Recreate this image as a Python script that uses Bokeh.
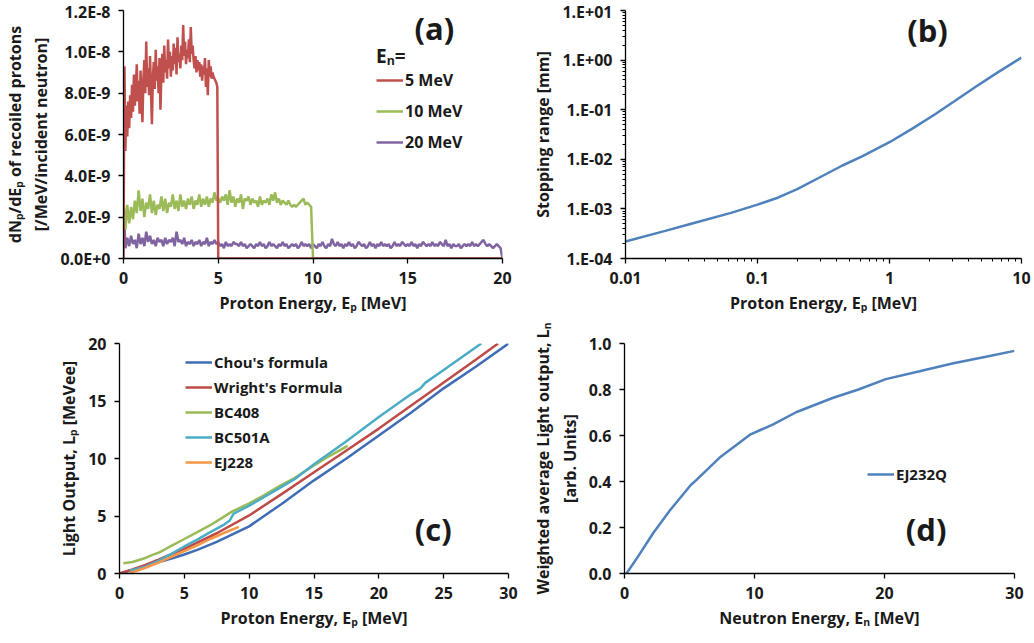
from bokeh.plotting import figure
from bokeh.layouts import column, row
from bokeh.models import (FixedTicker, CustomJSTickFormatter, Legend, LegendItem,
                          Label, Range1d, NumeralTickFormatter)
from bokeh.embed import file_html
from bokeh.resources import INLINE
import numpy as np

FONT = "Open Sans"
TXT = "#1a1a1a"

# ---------------- (a) recoil proton spectra, values in units of 1E-9 ----------------
bin5 = 0.05
red5 = [0.0, 9.3, 5.2, 7.4, 5.9, 7.6, 6.3, 7.9, 6.8, 8.4,
        7.1, 8.9, 7.4, 8.2, 9.4, 7.6, 8.6, 7.0, 9.1, 7.8,
        6.6, 8.7, 9.6, 8.0, 10.5, 8.3, 9.2, 7.9, 9.8, 8.1,
        6.5, 8.8, 9.5, 8.2, 10.1, 8.6, 9.3, 8.0, 9.7, 7.2,
        8.9, 9.9, 8.5, 10.3, 9.0, 9.6, 8.7, 10.6, 9.2, 10.0,
        8.8, 9.8, 9.1, 10.4, 9.4, 10.2, 8.9, 10.7, 9.5, 9.9,
        9.2, 10.3, 9.6, 11.3, 9.8, 10.5, 9.4, 10.1, 9.7, 10.6,
        9.5, 11.2, 9.9, 10.3, 9.6, 9.2, 9.8, 9.0, 9.6, 9.1,
        9.5, 8.8, 9.4, 8.6, 9.3, 8.9, 9.7, 8.3, 9.2, 7.9,
        9.6, 8.8, 9.3, 8.7, 9.0, 8.8, 8.7, 8.6, 8.5, 8.3]
end5 = [5.0, 20.0]

bin10 = 0.1
green10 = [2.9, 1.4, 2.6, 1.7, 2.5, 1.9, 2.8, 2.2, 3.3, 2.3,
           2.9, 2.0, 2.7, 2.4, 3.1, 2.2, 2.8, 2.1, 2.6, 2.4,
           3.0, 2.3, 2.9, 2.2, 2.7, 2.5, 3.1, 2.4, 2.8, 2.3,
           3.1, 2.5, 2.8, 2.4, 2.9, 2.6, 3.0, 2.4, 2.8, 2.6,
           3.1, 2.5, 2.9, 2.6, 3.0, 2.5, 2.9, 2.7, 3.2, 2.8,
           2.9, 2.7, 3.0, 2.8, 3.1, 2.6, 3.3, 2.7, 3.0, 2.5,
           2.9, 2.7, 3.1, 2.4, 2.9, 2.8, 3.0, 2.6, 2.9, 2.7,
           2.8, 2.5, 3.0, 2.6, 2.8, 2.7, 2.9, 2.6, 3.1, 2.8,
           3.2, 2.7, 2.9, 2.6, 2.8, 2.7, 2.6, 2.8, 2.6, 2.5,
           2.6, 2.5, 2.6, 2.7, 2.8, 2.9, 2.6, 2.7, 2.6, 2.5]
end10 = [10.0, 20.0]

bin20 = 0.1
purple20 = [2.9, 0.5, 1.0, 0.6, 1.1, 0.7, 0.9, 0.5, 1.2, 0.7,
            1.0, 0.6, 1.3, 0.8, 1.1, 0.7, 0.9, 0.6, 1.0, 0.8,
            0.9, 0.6, 1.0, 0.7, 0.9, 0.8, 1.0, 0.6, 1.3, 0.8,
            0.9, 0.7, 1.0, 0.6, 0.8, 0.7, 0.9, 0.6, 0.8, 0.7,
            0.9, 0.6, 0.8, 0.7, 1.0, 0.6, 0.8, 0.7, 0.9, 0.7,
            0.8, 0.6, 0.7, 0.5, 0.8, 0.6, 0.7, 0.6, 0.8, 0.7,
            0.7, 0.6, 0.8, 0.6, 0.7, 0.5, 0.6, 0.7, 0.6, 0.5,
            0.7, 0.6, 0.8, 0.6, 0.7, 0.5, 0.6, 0.8, 0.6, 0.7,
            0.6, 0.5, 0.7, 0.6, 0.8, 0.6, 0.7, 0.5, 0.6, 0.7,
            0.6, 0.7, 0.5, 0.6, 0.8, 0.6, 0.7, 0.6, 0.7, 0.5,
            0.7, 0.6, 0.5, 0.7, 0.6, 0.8, 0.6, 0.5, 0.7, 0.6,
            0.95, 0.7, 0.6, 0.8, 0.6, 0.7, 0.5, 0.7, 0.6, 0.8,
            0.6, 0.7, 0.5, 0.6, 0.8, 0.7, 0.6, 0.7, 0.5, 0.6,
            0.8, 0.6, 0.7, 0.5, 0.7, 0.6, 0.8, 0.6, 0.7, 0.6,
            0.7, 0.5, 0.6, 0.8, 0.6, 0.7, 0.6, 0.8, 0.7, 0.6,
            0.7, 0.6, 0.8, 0.6, 0.7, 0.5, 0.7, 0.6, 0.8, 0.7,
            0.6, 0.7, 0.6, 0.8, 0.6, 0.7, 0.6, 0.8, 0.7, 0.6,
            0.9, 0.6, 0.7, 0.5, 0.7, 0.6, 0.6, 0.7, 0.5, 0.6,
            0.7, 0.6, 0.7, 0.6, 0.8, 0.6, 0.7, 0.6, 0.7, 0.8,
            0.9, 0.7, 0.6, 0.7, 0.6, 0.5, 0.6, 0.7, 0.6, 0.5]
end20 = [20.0]

a_ticks_x = [0, 5, 10, 15, 20]
a_ticks_y = [0, 2e-9, 4e-9, 6e-9, 8e-9, 1e-8, 1.2e-8]
a_labels = ["5 MeV", "10 MeV", "20 MeV"]

# ---------------- (b) stopping range ----------------
b_E = [0.01, 0.02, 0.03, 0.063, 0.1, 0.144, 0.2, 0.3, 0.44, 0.62, 1.0, 1.5, 2.2, 3.1,
       4.5, 6.7, 10.0]
b_R = [2.21e-4, 3.6e-4, 4.85e-4, 8.3e-4, 1.22e-3, 1.7e-3, 2.5e-3, 4.4e-3, 7.5e-3, 1.15e-2,
       2.21e-2, 4.2e-2, 8.0e-2, 0.148, 0.29, 0.58, 1.13]

# ---------------- (c) light output ----------------
chou_E = [0, 1, 2, 3, 4, 5, 6, 7.5, 10, 12.5, 15, 17.5, 20, 22.5, 25, 27.5, 30]
chou_L = [0, 0.3, 0.65, 0.98, 1.3, 1.65, 2.05, 2.75, 4.1, 6.05, 8.1, 10.0, 12.0, 14.0, 16.1, 18.0, 20.0]
wright_E = [0, 1, 2, 3, 5, 7.5, 10, 12.5, 15, 17.5, 20, 22.5, 25, 27.5, 29.2]
wright_L = [0, 0.35, 0.75, 1.2, 2.15, 3.5, 5.05, 6.9, 8.8, 10.7, 12.6, 14.6, 16.6, 18.6, 20.0]
bc408_E = [0.3, 1, 2, 2.5, 3, 4, 5, 6, 7, 8, 8.7, 10, 11, 12.5, 13.5, 15, 16, 17.6]
bc408_L = [0.9, 1.0, 1.35, 1.6, 1.8, 2.4, 3.0, 3.6, 4.2, 4.9, 5.4, 6.1, 6.7, 7.7, 8.3, 9.4, 10.1, 11.1]
bc501_E = [0.8, 2, 3, 4, 5, 6, 7, 8, 8.5, 8.8, 10, 12, 13.5, 15, 17.5, 20, 22.5, 23.2, 23.6, 25, 27.9]
bc501_L = [0.25, 0.6, 1.1, 1.7, 2.35, 2.95, 3.6, 4.2, 4.6, 5.2, 5.9, 7.2, 8.2, 9.5, 11.5, 13.6, 15.6,
           16.1, 16.6, 17.7, 20.0]
ej228_E = [0.8, 1.5, 2, 3, 4, 5, 6, 7, 8, 9.2]
ej228_L = [0.05, 0.3, 0.5, 0.95, 1.45, 1.95, 2.45, 3.0, 3.5, 4.05]
c_names = ["Chou's formula", "Wright's Formula", "BC408", "BC501A", "EJ228"]

# ---------------- (d) weighted average light output ----------------
d_E = [0.15, 1, 2.2, 3.5, 5.1, 5.5, 7.3, 9.7, 10.5, 11.4, 13.2, 16, 18, 20.1, 22.7, 25.3, 27.8, 30]
d_L = [0, 0.07, 0.175, 0.275, 0.385, 0.405, 0.503, 0.605, 0.625, 0.647, 0.701, 0.763, 0.80,
       0.845, 0.879, 0.914, 0.942, 0.968]


def style(p):
    p.outline_line_color = None
    p.xgrid.visible = False
    p.ygrid.visible = False
    p.background_fill_color = "white"
    p.border_fill_color = "white"
    for ax in list(p.xaxis) + list(p.yaxis):
        ax.axis_line_color = "#000000"
        ax.axis_line_width = 1.3
        ax.major_tick_line_color = "#000000"
        ax.major_tick_line_width = 1.3
        ax.major_tick_in = 0
        ax.major_tick_out = 5
        ax.minor_tick_line_color = None
        ax.major_label_text_font = FONT
        ax.major_label_text_font_size = "16px"
        ax.major_label_text_font_style = "bold"
        ax.major_label_text_color = TXT
        ax.axis_label_text_font = FONT
        ax.axis_label_text_font_size = "16px"
        ax.axis_label_text_font_style = "bold"
        ax.axis_label_text_color = TXT
        ax.major_label_standoff = 8


def panel_label(p, txt, x, y):
    p.add_layout(Label(x=x, y=y, text=txt, text_font=FONT, text_font_size="31px",
                       text_font_style="bold", text_color=TXT,
                       text_align="center", text_baseline="middle"))


def legend(items, loc, title=None, spacing=5, lh=20, fs="15px"):
    lg = Legend(items=items, location=loc, border_line_color=None,
                background_fill_alpha=0, padding=0, margin=0, spacing=spacing,
                glyph_width=27, glyph_height=lh, label_height=lh, label_standoff=2,
                label_text_font=FONT, label_text_font_size=fs,
                label_text_font_style="bold", label_text_color=TXT)
    if title:
        lg.title = title
        lg.title_text_font = FONT
        lg.title_text_font_size = "19px"
        lg.title_text_font_style = "bold"
        lg.title_text_color = TXT
        lg.title_standoff = -3
    return lg


# ---------- panel (a) ----------
pa = figure(width=520, height=320, min_border_left=122, min_border_right=18,
            min_border_top=10, min_border_bottom=61, x_range=Range1d(0, 20),
            y_range=Range1d(0, 1.2e-8), output_backend="svg", toolbar_location=None)
style(pa)
xa5 = list(np.arange(len(red5)) * bin5) + end5
ya5 = [v * 1e-9 for v in red5] + [0.0] * len(end5)
xa10 = list(np.arange(len(green10)) * bin10) + end10
ya10 = [v * 1e-9 for v in green10] + [0.0] * len(end10)
xa20 = list(np.arange(len(purple20)) * bin20) + end20
ya20 = [v * 1e-9 for v in purple20] + [0.0] * len(end20)
r20 = pa.line(xa20, ya20, line_color="#8064A2", line_width=2.5)
r10 = pa.line(xa10, ya10, line_color="#9BBB59", line_width=2.5)
r5 = pa.line(xa5, ya5, line_color="#C0504D", line_width=2.5)
pa.xaxis.ticker = FixedTicker(ticks=a_ticks_x)
pa.yaxis.ticker = FixedTicker(ticks=a_ticks_y)
pa.yaxis.formatter = CustomJSTickFormatter(code="""
if (Math.abs(tick) < 1e-20) return "0.0E+0";
const e = Math.floor(Math.log10(Math.abs(tick)) + 1e-6);
const m = tick / Math.pow(10, e);
return m.toFixed(1) + "E" + (e >= 0 ? "+" : "") + e;
""")
pa.xaxis.axis_label = "Proton Energy, E\u209a [MeV]"
pa.yaxis.axis_label = "dN\u209a/dE\u209a of recoiled protons\n[/MeV/incident neutron]"
pa.add_layout(legend([LegendItem(label=a_labels[0], renderers=[r5]),
                      LegendItem(label=a_labels[1], renderers=[r10]),
                      LegendItem(label=a_labels[2], renderers=[r20])],
                     (253, 105), title="E\u2099=", spacing=9, fs="16px"))
panel_label(pa, "(a)", 16.4, 1.113e-8)

# ---------- panel (b) ----------
pb = figure(width=514, height=320, min_border_left=105, min_border_right=13,
            min_border_top=8, min_border_bottom=62, x_axis_type="log", y_axis_type="log",
            x_range=Range1d(0.01, 10), y_range=Range1d(1e-4, 10),
            output_backend="svg", toolbar_location=None)
style(pb)
pb.line(b_E, b_R, line_color="#4F81BD", line_width=2.5)
pb.xaxis.ticker = FixedTicker(ticks=[0.01, 0.1, 1, 10],
                              minor_ticks=[m * 10.0 ** e for e in range(-2, 1) for m in range(2, 10)])
pb.yaxis.ticker = FixedTicker(ticks=[1e-4, 1e-3, 1e-2, 1e-1, 1, 10],
                              minor_ticks=[m * 10.0 ** e for e in range(-4, 1) for m in range(2, 10)])
for ax in list(pb.xaxis) + list(pb.yaxis):
    ax.minor_tick_line_color = "#000000"
    ax.minor_tick_in = 0
    ax.minor_tick_out = 3
pb.xaxis.formatter = CustomJSTickFormatter(code="""
const e = Math.round(Math.log10(tick));
return e < 0 ? (1/Math.pow(10,-e)).toFixed(-e) : String(Math.pow(10, e));
""")
pb.yaxis.formatter = CustomJSTickFormatter(code="""
const e = Math.round(Math.log10(tick));
const s = String(Math.abs(e)).padStart(2, "0");
return "1.E" + (e < 0 ? "-" : "+") + s;
""")
pb.xaxis.axis_label = "Proton Energy, E\u209a [MeV]"
pb.yaxis.axis_label = "Stopping range [mm]"
panel_label(pb, "(b)", 1.94, 4.0)

# ---------- panel (c) ----------
pc = figure(width=520, height=323, min_border_left=119, min_border_right=12,
            min_border_top=23, min_border_bottom=70, x_range=Range1d(0, 30),
            y_range=Range1d(0, 20), output_backend="svg", toolbar_location=None)
style(pc)
rc1 = pc.line(chou_E, chou_L, line_color="#3E6DB5", line_width=2.5)
rc2 = pc.line(wright_E, wright_L, line_color="#BE4B48", line_width=2.5)
rc3 = pc.line(bc408_E, bc408_L, line_color="#9BBB59", line_width=2.5)
rc4 = pc.line(bc501_E, bc501_L, line_color="#4BACC6", line_width=2.5)
rc5 = pc.line(ej228_E, ej228_L, line_color="#F79646", line_width=2.5)
pc.xaxis.ticker = FixedTicker(ticks=[0, 5, 10, 15, 20, 25, 30])
pc.yaxis.ticker = FixedTicker(ticks=[0, 5, 10, 15, 20])
pc.xaxis.axis_label = "Proton Energy, E\u209a [MeV]"
pc.yaxis.axis_label = "Light Output, L\u209a [MeVee]"
pc.add_layout(legend([LegendItem(label=n, renderers=[r]) for n, r in
                      zip(c_names, [rc1, rc2, rc3, rc4, rc5])], (66, 101), spacing=5))
panel_label(pc, "(c)", 24.2, 3.9)

# ---------- panel (d) ----------
pd_ = figure(width=514, height=323, min_border_left=104, min_border_right=20,
             min_border_top=9, min_border_bottom=70, x_range=Range1d(0, 30),
             y_range=Range1d(0, 1.0), output_backend="svg", toolbar_location=None)
style(pd_)
rd = pd_.line(d_E, d_L, line_color="#4F81BD", line_width=2.5)
pd_.xaxis.ticker = FixedTicker(ticks=[0, 10, 20, 30])
pd_.yaxis.ticker = FixedTicker(ticks=[0, 0.2, 0.4, 0.6, 0.8, 1.0])
pd_.yaxis.formatter = NumeralTickFormatter(format="0.0")
pd_.xaxis.axis_label = "Neutron Energy, E\u2099 [MeV]"
pd_.yaxis.axis_label = "Weighted average Light output, L\u2099\n[arb. Units]"
pd_.add_layout(legend([LegendItem(label="EJ232Q", renderers=[rd])], (243, 89)))
panel_label(pd_, "(d)", 23.2, 0.193)

layout = column(row(pa, pb), row(pc, pd_))
open("out.html", "w").write(file_html(layout, INLINE))
